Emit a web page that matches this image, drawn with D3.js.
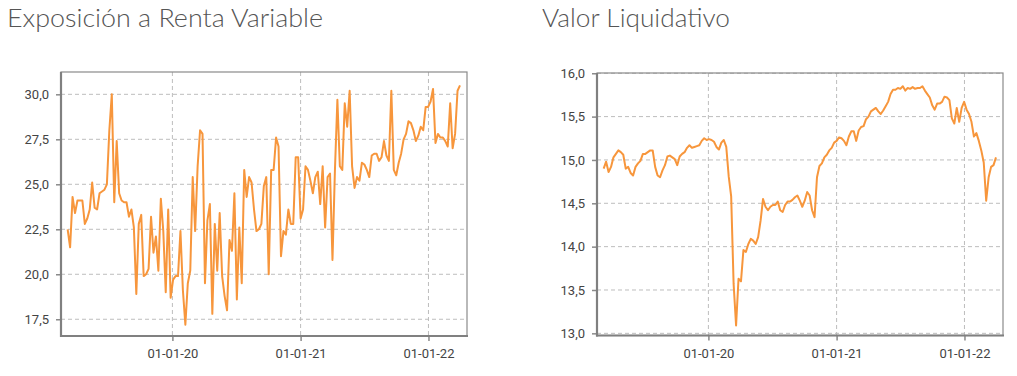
<!DOCTYPE html>
<html>
<head>
<meta charset="utf-8">
<script src="https://cdn.jsdelivr.net/npm/d3@7"></script>
<style>
  body { margin: 0; background: #fff; }
  .titulo { font-family: Lato, 'Open Sans', sans-serif; font-weight: 300; font-size: 25px; fill: #555; }
  .tick text { font-family: Roboto, sans-serif; font-size: 13px; fill: #444; }
</style>
</head>
<body>
<svg class="graficos" width="1017" height="376"></svg>
<script>
// semanas desde el 08-03-19 hasta el 01-04-22
const inicio = new Date(2019, 2, 8);
const fin = new Date(2022, 3, 2);
const dominioFechas = [new Date(2019, 1, 17), new Date(2022, 3, 21)];
const ticksFechas = [new Date(2020, 0, 1), new Date(2021, 0, 1), new Date(2022, 0, 1)];

const exposicion = [
  22.5, 21.5, 24.3, 23.4, 24.1, 24.1, 24.1, 22.8, 23.1, 23.6,
  25.1, 23.7, 23.6, 24.5, 24.6, 24.7, 25.0, 28.0, 30.0, 24.0,
  27.4, 24.5, 24.1, 24.0, 24.0, 23.2, 23.6, 22.6, 18.9, 22.8,
  23.3, 19.9, 20.0, 20.3, 23.2, 21.2, 22.1, 20.2, 24.2, 22.4,
  19.0, 23.6, 18.7, 19.7, 19.9, 19.9, 22.4, 19.1, 17.2, 19.5,
  20.2, 25.4, 22.4, 26.0, 28.0, 27.8, 19.5, 23.0, 23.9, 17.8,
  22.8, 20.2, 23.4, 19.9, 18.8, 18.0, 21.9, 21.3, 24.5, 18.6,
  22.6, 19.5, 25.8, 24.3, 25.4, 25.1, 23.6, 22.4, 22.5, 22.8,
  24.9, 25.4, 20.0, 25.8, 25.8, 27.6, 27.1, 21.0, 22.4, 22.2,
  23.6, 22.8, 22.8, 26.5, 26.5, 23.1, 23.6, 26.0, 25.8, 25.2,
  24.5, 25.4, 25.7, 23.9, 26.0, 22.6, 25.4, 25.6, 20.8, 25.8,
  29.7, 26.0, 25.8, 29.5, 28.2, 30.2, 26.0, 24.8, 25.4, 25.2,
  26.2, 26.1, 25.8, 25.4, 26.6, 26.7, 26.7, 26.3, 26.5, 27.4,
  26.6, 26.3, 30.2, 25.8, 25.5, 26.2, 26.7, 27.5, 27.8, 28.5,
  28.4, 28.0, 27.4, 27.7, 28.2, 28.0, 29.3, 29.3, 29.6, 30.3,
  27.3, 27.8, 27.6, 27.6, 27.4, 27.1, 29.5, 27.0, 27.8, 30.2,
  30.5
];

const valorLiquidativo = [
  14.90, 14.98, 14.86, 14.92, 15.03, 15.07, 15.11, 15.09, 15.06, 14.90,
  14.92, 14.85, 14.82, 14.92, 14.96, 14.99, 15.07, 15.07, 15.09, 15.11,
  15.11, 14.92, 14.82, 14.80, 14.88, 14.94, 15.04, 15.05, 15.03, 15.01,
  14.94, 15.04, 15.07, 15.09, 15.14, 15.17, 15.14, 15.15, 15.16, 15.17,
  15.22, 15.25, 15.23, 15.24, 15.23, 15.21, 15.15, 15.12, 15.20, 15.23,
  15.15, 14.81, 14.58, 13.57, 13.09, 13.63, 13.60, 13.96, 13.94, 14.03,
  14.09, 14.07, 14.03, 14.11, 14.30, 14.55, 14.46, 14.42, 14.46, 14.48,
  14.48, 14.52, 14.42, 14.40, 14.48, 14.52, 14.52, 14.54, 14.57, 14.59,
  14.53, 14.46, 14.53, 14.63, 14.59, 14.42, 14.34, 14.80, 14.93, 14.96,
  15.03, 15.06, 15.11, 15.14, 15.20, 15.22, 15.26, 15.25, 15.22, 15.17,
  15.27, 15.33, 15.33, 15.22, 15.34, 15.38, 15.39, 15.47, 15.50, 15.56,
  15.58, 15.60, 15.56, 15.53, 15.57, 15.62, 15.67, 15.76, 15.81, 15.81,
  15.83, 15.82, 15.85, 15.80, 15.83, 15.82, 15.84, 15.82, 15.83, 15.83,
  15.85, 15.80, 15.76, 15.72, 15.63, 15.58, 15.65, 15.65, 15.67, 15.73,
  15.72, 15.69, 15.48, 15.42, 15.60, 15.44, 15.60, 15.67, 15.58, 15.53,
  15.44, 15.27, 15.31, 15.22, 15.11, 14.97, 14.53, 14.80, 14.92, 14.94,
  15.03
];

const ticksExposicion = [17.5, 20.0, 22.5, 25.0, 27.5, 30.0];
const ticksValor = [13.0, 13.5, 14.0, 14.5, 15.0, 15.5, 16.0];

const fechas = d3.timeDay.range(inicio, fin, 7);

const es = d3.formatLocale({ decimal: ',', thousands: '.', grouping: [3], currency: ['', '€'] });
const formatoValor = es.format('.1f');
const formatoFecha = d3.timeFormat('%d-%m-%y');

const svg = d3.select('.graficos');

const dibujar = (opts) => {
  const { left, top, width, height, valores, dominio, ticks, titulo, tituloX, tituloAncho } = opts;

  const datos = valores.map((v, i) => ({ fecha: fechas[i], valor: v }));

  const x = d3.scaleTime()
    .domain(dominioFechas)
    .range([0, width]);

  const y = d3.scaleLinear()
    .domain(dominio)
    .range([height, 0]);

  svg.append('text')
    .attr('class', 'titulo')
    .attr('x', tituloX)
    .attr('y', 27)
    .attr('textLength', tituloAncho)
    .attr('lengthAdjust', 'spacingAndGlyphs')
    .text(titulo);

  const g = svg.append('g')
    .attr('transform', `translate(${left},${top})`);

  // rejilla
  g.append('g')
    .selectAll('line')
    .data(ticks)
    .join('line')
    .attr('x1', 0)
    .attr('x2', width)
    .attr('y1', d => y(d))
    .attr('y2', d => y(d))
    .attr('stroke', '#bdbdbd')
    .attr('stroke-dasharray', '4,3');

  g.append('g')
    .selectAll('line')
    .data(ticksFechas)
    .join('line')
    .attr('x1', d => x(d))
    .attr('x2', d => x(d))
    .attr('y1', 0)
    .attr('y2', height)
    .attr('stroke', '#bdbdbd')
    .attr('stroke-dasharray', '4,3');

  // marco
  g.append('rect')
    .attr('width', width)
    .attr('height', height)
    .attr('fill', 'none')
    .attr('stroke', '#8a8a8a')
    .attr('stroke-width', 1.2);

  const yAxisG = g.append('g')
    .call(d3.axisLeft(y).tickValues(ticks).tickFormat(formatoValor).tickSize(5).tickPadding(7));

  const xAxisG = g.append('g')
    .attr('transform', `translate(0,${height})`)
    .call(d3.axisBottom(x).tickValues(ticksFechas).tickFormat(formatoFecha).tickSize(5).tickPadding(8));

  [yAxisG, xAxisG].forEach(a => {
    a.select('.domain').remove();
    a.selectAll('.tick line').attr('stroke', '#8a8a8a').attr('stroke-width', 1.5);
  });

  g.append('line')
    .attr('x1', 0).attr('x2', 0)
    .attr('y1', 0).attr('y2', height + 1)
    .attr('stroke', '#808080')
    .attr('stroke-width', 2.2);

  g.append('line')
    .attr('x1', -1).attr('x2', width + 1)
    .attr('y1', height).attr('y2', height)
    .attr('stroke', '#808080')
    .attr('stroke-width', 2.2);

  const linea = d3.line()
    .x(d => x(d.fecha))
    .y(d => y(d.valor));

  g.append('path')
    .datum(datos)
    .attr('fill', 'none')
    .attr('stroke', '#f7963c')
    .attr('stroke-width', 2)
    .attr('stroke-linejoin', 'round')
    .attr('d', linea);
};

dibujar({
  left: 61, top: 72, width: 406, height: 264,
  valores: exposicion,
  dominio: [16.57, 31.24],
  ticks: ticksExposicion,
  titulo: 'Exposición a Renta Variable',
  tituloX: 7,
  tituloAncho: 316
});

dibujar({
  left: 597, top: 73, width: 406, height: 262.5,
  valores: valorLiquidativo,
  dominio: [12.975, 16.003],
  ticks: ticksValor,
  titulo: 'Valor Liquidativo',
  tituloX: 542,
  tituloAncho: 188
});
</script>
</body>
</html>
